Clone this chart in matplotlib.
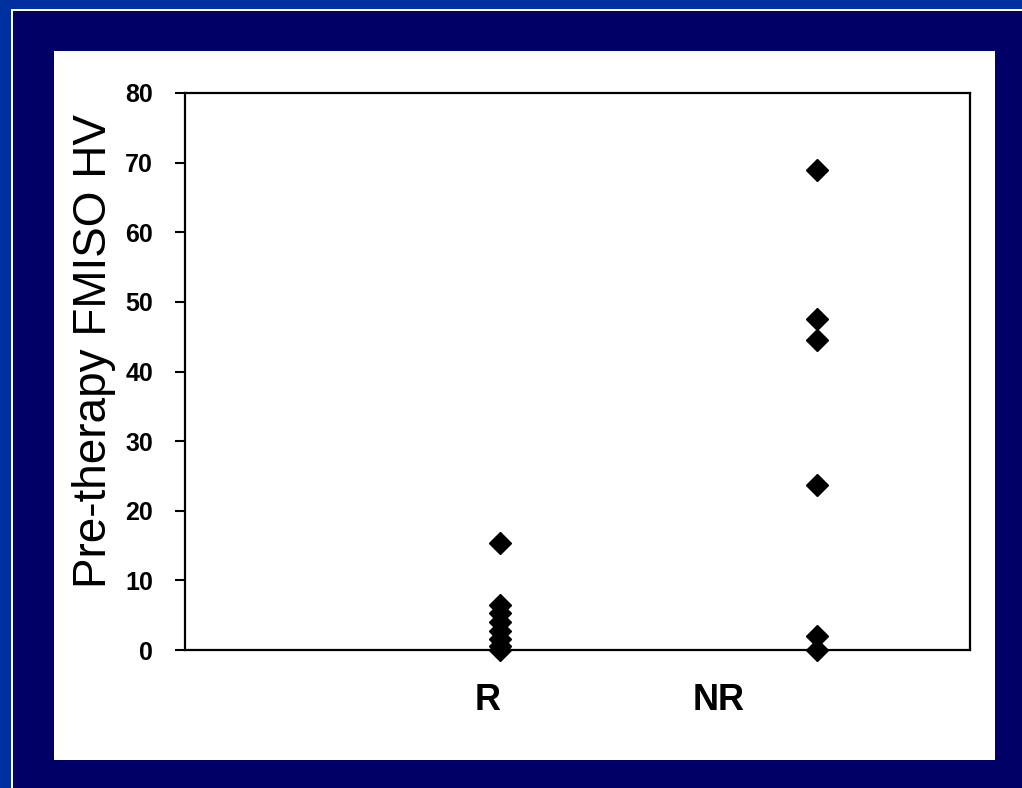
import matplotlib
matplotlib.use("Agg")
import matplotlib.pyplot as plt
from matplotlib.patches import Rectangle

plt.rcParams['font.family'] = ['Liberation Sans', 'DejaVu Sans']

# Data
groups = ["R", "NR"]
group_x = [1.0, 2.0]
r_values = [15.3, 6.5, 5.3, 4.0, 2.8, 1.6, 0.6, 0.0]
nr_values = [68.9, 47.6, 44.5, 23.7, 2.0, 0.0]
yticks = [0, 10, 20, 30, 40, 50, 60, 70, 80]
label_x = [0.96, 1.69]

W, H = 1022, 788
fig = plt.figure(figsize=(W / 100, H / 100), dpi=100)
fig.patch.set_facecolor("#000066")

def px_rect(x0, y0, x1, y1, color):
    fig.patches.append(Rectangle((x0 / W, 1 - y1 / H), (x1 - x0) / W, (y1 - y0) / H,
                                 transform=fig.transFigure, facecolor=color,
                                 edgecolor="none", zorder=-5))

# bright blue outer strips (top & left) with thin white line
px_rect(0, 0, W, 9, "#0030A0")
px_rect(0, 0, 11, H, "#0030A0")
px_rect(11, 9, W, 11, "white")
px_rect(11, 9, 13, H, "white")
# white panel
px_rect(54, 51, 995, 760, "white")

ax = fig.add_axes([185 / W, 1 - 650 / H, (970 - 185) / W, (650 - 93) / H])
ax.set_zorder(2)
ax.set_facecolor("white")

ax.plot([group_x[0]] * len(r_values), r_values, linestyle="none", marker="D",
        markersize=11.5, color="black", clip_on=False, zorder=3)
ax.plot([group_x[1]] * len(nr_values), nr_values, linestyle="none", marker="D",
        markersize=11.5, color="black", clip_on=False, zorder=3)

ax.set_xlim(0.006, 2.483)
ax.set_ylim(0, 80)
ax.set_yticks(yticks)
ax.set_yticklabels([str(v) for v in yticks], fontsize=18, fontweight="bold")
ax.tick_params(axis="y", direction="out", length=7, width=1.5, pad=16, colors="black")
ax.set_xticks(label_x)
ax.set_xticklabels(groups, fontsize=26, fontweight="bold")
ax.tick_params(axis="x", length=0, pad=24)
for s in ax.spines.values():
    s.set_linewidth(1.6)
    s.set_color("black")

ax.set_ylabel("Pre-therapy FMISO HV", fontsize=33)
ax.yaxis.set_label_coords((116 - 185) / 785, (650 - 351) / 557)

fig.savefig("out.png", dpi=100, facecolor=fig.get_facecolor())
